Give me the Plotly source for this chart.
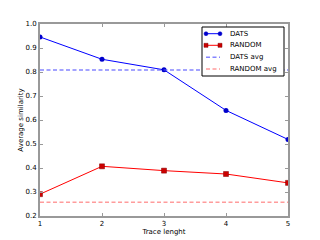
import plotly.graph_objects as go

x = [1, 2, 3, 4, 5]
dats = [0.946, 0.853, 0.809, 0.640, 0.519]
rand = [0.291, 0.407, 0.389, 0.375, 0.338]
dats_avg = 0.808
rand_avg = 0.257
series_names = ["DATS", "RANDOM", "DATS avg", "RANDOM avg"]

BLUE = "#0000ff"
RED = "#ff0000"
BLUE_AVG = "rgba(80,80,255,0.7)"
RED_AVG = "rgba(255,90,90,0.6)"
DASH = "4px,2.5px"

fig = go.Figure()
fig.add_trace(go.Scatter(x=x, y=dats, mode="lines+markers", name=series_names[0],
                         line=dict(color=BLUE, width=1), marker=dict(color="#0000cc", size=5, symbol="circle")))
fig.add_trace(go.Scatter(x=x, y=rand, mode="lines+markers", name=series_names[1],
                         line=dict(color=RED, width=1), marker=dict(color="#cc0000", size=5, symbol="square",
                                                                   line=dict(color="#800000", width=0.5))))
fig.add_trace(go.Scatter(x=[x[0], x[-1]], y=[dats_avg, dats_avg], mode="lines", name=series_names[2],
                         line=dict(color=BLUE_AVG, width=1.5, dash=DASH)))
fig.add_trace(go.Scatter(x=[x[0], x[-1]], y=[rand_avg, rand_avg], mode="lines", name=series_names[3],
                         line=dict(color=RED_AVG, width=1.5, dash=DASH)))

# page body has ~8px margin; compensate so the plot area lands where the reference has it
OFF = 8
W, H = 320 - OFF, 240 - OFF
L, R, T, B = 40 - OFF, 32, 24 - OFF, 24
pw, ph = W - L - R, H - T - B
def px(xs): return (xs - OFF - L) / pw
def py(ys): return (H - B - (ys - OFF)) / ph

shapes = [dict(type="rect", xref="paper", yref="paper", x0=px(202), x1=px(284), y0=py(27), y1=py(76),
               line=dict(color="black", width=1), fillcolor="white", layer="above")]
annotations = []
rows = [33.7, 45.3, 57.3, 69]
styles = [(BLUE, "solid", 1, "circle"), (RED, "solid", 1, "square"),
          (BLUE_AVG, DASH, 1.5, None), (RED_AVG, DASH, 1.5, None)]
for name, yr, (col, dash, wd, mk) in zip(series_names, rows, styles):
    shapes.append(dict(type="line", xref="paper", yref="paper", x0=px(206), x1=px(220), y0=py(yr), y1=py(yr),
                       line=dict(color=col, width=wd, dash=dash), layer="above"))
    if mk:
        for xc in (206, 220):
            if mk == "circle":
                shapes.append(dict(type="circle", xref="paper", yref="paper", x0=px(xc - 2), x1=px(xc + 2),
                                   y0=py(yr + 2), y1=py(yr - 2), fillcolor="#0000cc",
                                   line=dict(color="#0000cc", width=0.5), layer="above"))
            else:
                shapes.append(dict(type="rect", xref="paper", yref="paper", x0=px(xc - 2), x1=px(xc + 2),
                                   y0=py(yr + 2), y1=py(yr - 2), fillcolor="#cc0000",
                                   line=dict(color="#800000", width=0.5), layer="above"))
    annotations.append(dict(xref="paper", yref="paper", x=px(228), y=py(yr), text=name, showarrow=False,
                            xanchor="left", yanchor="middle", font=dict(family="DejaVu Sans", size=7, color="black")))

axis_common = dict(showgrid=False, zeroline=False, showline=True, linecolor="#999999", linewidth=2,
                   mirror="ticks", ticks="inside", ticklen=3, tickcolor="#999999", automargin=False,
                   tickfont=dict(family="DejaVu Sans", size=7, color="black"))
fig.update_layout(
    width=W, height=H,
    margin=dict(l=L, r=R, t=T, b=B, pad=0),
    paper_bgcolor="white", plot_bgcolor="white",
    showlegend=False,
    shapes=shapes, annotations=annotations,
    xaxis=dict(range=[1, 5], tickvals=[1, 2, 3, 4, 5],
               title=dict(text="Trace lenght", font=dict(family="DejaVu Sans", size=7, color="black"), standoff=0),
               **axis_common),
    yaxis=dict(range=[0.2, 1.0], tickvals=[0.2, 0.3, 0.4, 0.5, 0.6, 0.7, 0.8, 0.9, 1.0],
               tickformat=".1f",
               title=dict(text="Average similarity", font=dict(family="DejaVu Sans", size=7, color="black"), standoff=0),
               **axis_common),
)
fig.write_html("out.html")
